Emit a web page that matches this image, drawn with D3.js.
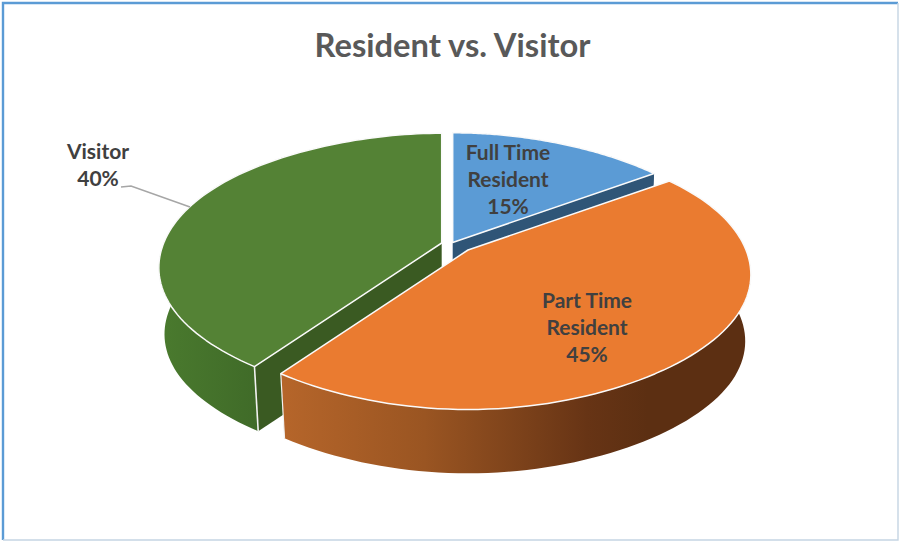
<!DOCTYPE html>
<html><head><meta charset="utf-8">
<script src="https://cdn.jsdelivr.net/npm/d3@7"></script>
<style>html,body{margin:0;padding:0;background:#fff}svg{display:block}text{font-family:Lato,"Open Sans",sans-serif;font-weight:700}</style>
</head><body><svg id="c" width="899" height="541"></svg>
<script>
// Data
const categories = ["Full Time Resident", "Part Time Resident", "Visitor"];
const values = [15, 45, 40];
const labelLines = [["Full Time", "Resident", "15%"], ["Part Time", "Resident", "45%"], ["Visitor", "40%"]];
const title = "Resident vs. Visitor";
// Styles
const topColors = ["#5B9BD5", "#EA7B30", "#548235"];
const cutColors = ["#2F5577", null, "#3A5A22"];
// Layout
const W = 899, H = 541;
const apex = [[452.7, 242.5], [468, 250], [441.7, 243]];
const R = 278, Ry = 130, K = 0.185, shrink = 0.98, DEPTH = 67, FLAT = 0.06;
const labelPos = [[508, 159.5], [587, 307.5], [98, 158.5]];
const lineH = 27.4;

const svg = d3.select("#c");
const defs = svg.append("defs");
function grad(id, stops, x1, x2) {
  const g = defs.append("linearGradient").attr("id", id).attr("gradientUnits", "userSpaceOnUse")
    .attr("x1", x1).attr("x2", x2).attr("y1", 0).attr("y2", 0);
  stops.forEach(s => g.append("stop").attr("offset", s[0]).attr("stop-color", s[1]));
}
grad("wall1", [[0, "#B5652A"], [0.3, "#9A5522"], [0.65, "#673415"], [0.78, "#5C2F12"], [1, "#5C2F12"]], 285, 750);
grad("wall2", [[0, "#4A7A2E"], [1, "#3F6A28"]], 160, 262);
const wallFill = ["#2F5577", "url(#wall1)", "url(#wall2)"];

// Perspective projection of a point on the unit pie (angle clockwise from top)
function project(i, a, r, low) {
  const u = r * Math.sin(a), v = -r * Math.cos(a), w = 1 - K * v, s = low ? shrink : 1;
  const flat = 1 - FLAT * v * v * v * v;
  return [apex[i][0] + s * R * flat * u / w, apex[i][1] + s * Ry * v / w + (low ? DEPTH : 0)];
}
const line = d3.line();
const arcAngles = (d, n = 90) => d3.range(n + 1).map(t => d.startAngle + (d.endAngle - d.startAngle) * t / n);

const pie = d3.pie().sort(null)(values);
const order = [0, 2, 1];
// which cut face of each slice faces the viewer
const visibleCut = [pie[0].endAngle, null, pie[2].startAngle];

// border
svg.append("path").attr("d", `M3,540 V3 H898`).attr("fill", "none").attr("stroke", "#5B9BD5").attr("stroke-width", 2.4);
svg.append("path").attr("d", `M3,540 H898 V3`).attr("fill", "none").attr("stroke", "#C5D5E3").attr("stroke-width", 1.4);

// walls
order.forEach(i => {
  const d = pie[i], g = svg.append("g");
  const as = arcAngles(d);
  const outer = as.map(a => project(i, a, 1, false)).concat(as.slice().reverse().map(a => project(i, a, 1, true)));
  g.append("path").attr("d", line(outer) + "Z").attr("fill", wallFill[i]);
  if (visibleCut[i] !== null) {
    const a = visibleCut[i];
    const q = [project(i, a, 0, false), project(i, a, 1, false), project(i, a, 1, true), project(i, a, 0, true)];
    g.append("path").attr("d", line(q) + "Z").attr("fill", cutColors[i]);
  }
  if (i === 2) {
    g.append("path").attr("d", line([project(i, d.startAngle, 1, false), project(i, d.startAngle, 1, true)]))
      .attr("stroke", "#F2F2F2").attr("stroke-width", 1.6).attr("fill", "none");
  }
  if (i === 1) {
    g.append("path").attr("d", line([project(i, d.endAngle, 1, false), project(i, d.endAngle, 1, true)]))
      .attr("stroke", "#F2F2F2").attr("stroke-width", 1.2).attr("fill", "none");
  }
});
// tops
order.forEach(i => {
  const d = pie[i];
  const pts = [project(i, 0, 0, false)].concat(arcAngles(d).map(a => project(i, a, 1, false)));
  svg.append("path").attr("d", line(pts) + "Z").attr("fill", topColors[i])
    .attr("stroke", "#FAFAFA").attr("stroke-width", 1.5).attr("stroke-linejoin", "round");
});
// title
svg.append("text").attr("x", 452.5).attr("y", 57).attr("text-anchor", "middle")
  .attr("font-size", 32.7).attr("fill", "#595959").text(title);
// leader
svg.append("path").attr("d", "M121,187 L131,186 L190,207").attr("fill", "none").attr("stroke", "#A6A6A6").attr("stroke-width", 1.6);
// labels
categories.forEach((c, i) => {
  labelLines[i].forEach((t, j) => {
    svg.append("text").attr("x", labelPos[i][0]).attr("y", labelPos[i][1] + j * lineH)
      .attr("text-anchor", "middle").attr("font-size", 21).attr("fill", "#404040").text(t);
  });
});
</script></body></html>
